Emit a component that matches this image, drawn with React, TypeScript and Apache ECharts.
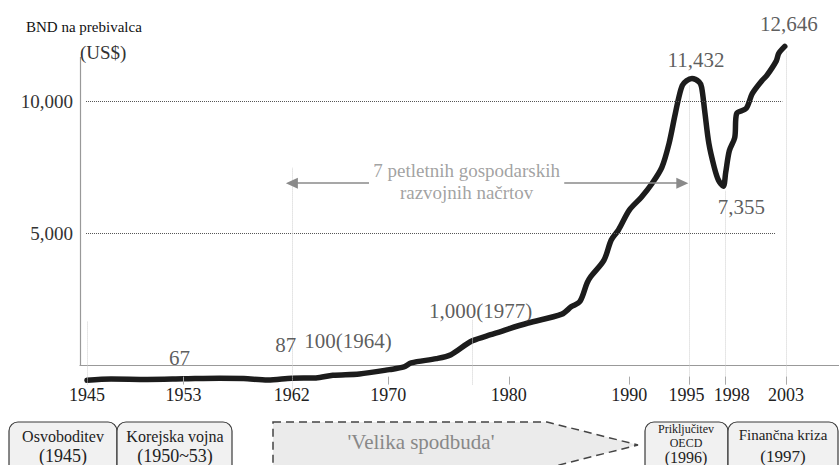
import React, { useEffect, useRef } from 'react';
import * as echarts from 'echarts';

const FONT = "'Liberation Serif', 'Times New Roman', serif";

// GNI per capita curve (US$)
const gniYears = [
  1945, 1947, 1950, 1953, 1956, 1958, 1960, 1962, 1964, 1965.4, 1967.6, 1970.1, 1971.3, 1971.9,
  1974, 1975.2, 1976.5, 1977, 1978.5, 1979.4, 1980, 1981.6, 1984.4, 1985.2, 1985.9, 1986.5,
  1986.8, 1987.9, 1988.5, 1989.1, 1990, 1991, 1991.9, 1992.7, 1993.3, 1993.75, 1994.1, 1994.4,
  1994.75, 1995.2, 1995.8, 1996, 1996.25, 1996.6, 1997.05, 1997.4, 1997.8, 1998, 1998.3,
  1998.75, 1998.9, 1999.7, 2000.2, 2001, 2001.4, 2002.2, 2002.4, 2002.9,
];
const gniValues = [
  15, 60, 45, 67, 90, 75, 20, 87, 100, 200, 250, 415, 515, 670,
  830, 980, 1380, 1510, 1735, 1860, 1960, 2180, 2515, 2800, 2990, 3700,
  3935, 4560, 5320, 5700, 6450, 6940, 7470, 8070, 8980, 9960, 10700, 11170,
  11350, 11432, 11300, 11100, 10230, 8980, 8070, 7580, 7355, 7880, 8700,
  9200, 10100, 10300, 10860, 11350, 11540, 12100, 12380, 12646,
];

const xTickYears = [1945, 1953, 1962, 1970, 1980, 1990, 1995, 1998, 2003];
const shortTickYears = [1953, 1970, 1980, 1990, 1995, 1998, 2003];
const guideYears = [1945, 1962, 1977, 1995, 1998, 2003];
const guideTops = [2230, 8070, 2300, 11170, 7200, 12490];
const yTickValues = [5000, 10000];
const gridEnds = [2002.1, 2002.7];

const noteTexts = ['67', '87', '100(1964)', '1,000(1977)', '11,432', '7,355', '12,646'];
const noteYears = [1953, 1962, 1964, 1977, 1995.2, 1997.8, 2002.9];
const noteValues = [67, 87, 100, 1000, 11432, 7355, 12646];
const noteOffsets = [[-4, -21], [-6, -33], [32, -37], [8, -43], [4, -19], [18, 21], [4, -22]];

const planText = '7 petletnih gospodarskih\nrazvojnih načrtov';
const planStart = 1962;
const planEnd = 1994.4;
const planLevel = 7470;
const planTextYear = 1976.5;
const planGap = [1968.4, 1984.6];

const eventTitles = ['Osvoboditev', 'Korejska vojna', 'Priključitev', 'Finančna kriza'];
const eventYearsText = ['(1945)', '(1950~53)', '(1996)', '(1997)'];
const campaignLabel = "'Velika spodbuda'";

// axis layout
const X_MIN = 1944.42;
const X_MAX = 2007.4;
const VIS_MIN = -1000;
const VIS_MAX = 12700;
const CURVE_SHIFT = 568;
const Y_LINE_TOP = 11680;

function txt(text: string, x: number, y: number, size: number, fill: string, align = 'center') {
  return {
    type: 'text',
    x,
    y,
    silent: true,
    z: 10,
    style: {
      text,
      font: `${size}px ${FONT}`,
      fill,
      align,
      verticalAlign: 'middle',
      textAlign: align,
      textVerticalAlign: 'middle',
    },
  };
}

export default function App() {
  const ref = useRef<HTMLDivElement>(null);

  useEffect(() => {
    if (!ref.current) return;
    const chart = echarts.init(ref.current, undefined, { renderer: 'svg' });

    const curveData = gniYears.map((y, i) => [y, gniValues[i]]);

    const gridLineItems = yTickValues.map((v, i) => [
      { coord: [1944.92, v], lineStyle: { type: 'dotted', color: '#555', width: 1 } },
      { coord: [gridEnds[i], v] },
    ]);
    const yAxisLine = [
      { coord: [X_MIN, 0], lineStyle: { type: 'solid', color: '#999', width: 1.2 } },
      { coord: [X_MIN, Y_LINE_TOP] },
    ];

    const guideItems = guideYears.map((y, i) => [
      { coord: [y, y === 1962 ? -340 : -150], lineStyle: { type: 'dotted', color: '#cfcfcf', width: 1 } },
      { coord: [y, guideTops[i]] },
    ]);
    const tickItems = shortTickYears.map((y) => [
      { coord: [y, -150], lineStyle: { type: 'solid', color: '#aaa', width: 1 } },
      { coord: [y, 150] },
    ]);
    const arrowStyle = { type: 'solid', color: '#8a8a8a', width: 1.5 };
    const arrowItems = [
      [
        { coord: [planStart, planLevel], symbol: 'triangle', symbolSize: [11, 12], lineStyle: arrowStyle, itemStyle: { color: '#8a8a8a' } },
        { coord: [planGap[0], planLevel], symbol: 'none' },
      ],
      [
        { coord: [planGap[1], planLevel], symbol: 'none', lineStyle: arrowStyle, itemStyle: { color: '#8a8a8a' } },
        { coord: [planEnd, planLevel], symbol: 'triangle', symbolSize: [11, 12] },
      ],
    ];

    const noteData: any[] = noteTexts.map((t, i) => ({
      name: t,
      value: [noteYears[i], noteValues[i]],
      label: { offset: noteOffsets[i] },
    }));
    noteData.push({
      name: planText,
      value: [planTextYear, planLevel],
      label: { offset: [0, -2], fontSize: 19, color: '#8a8a8a', lineHeight: 22 },
    });

    const boxStyle = { fill: '#f1f1f1', stroke: '#3a3a3a', lineWidth: 1.2 };
    const xLabelRich = {
      l: { fontFamily: FONT, fontSize: 18, color: '#222', padding: [0, 6, 0, 0] },
      r: { fontFamily: FONT, fontSize: 18, color: '#222', padding: [0, 0, 0, 12] },
    };

    const option: any = {
      animation: false,
      grid: { left: 80, right: 0, top: 30, bottom: 73, outerBoundsMode: 'none' },
      xAxis: {
        type: 'value',
        min: X_MIN,
        max: X_MAX,
        position: 'bottom',
        axisLine: { show: true, onZero: true, onZeroAxisIndex: 0, lineStyle: { color: '#999', width: 1.2 } },
        axisTick: { show: false },
        splitLine: { show: false },
        axisLabel: {
          customValues: xTickYears,
          margin: -6,
          fontFamily: FONT,
          fontSize: 18,
          color: '#222',
          rich: xLabelRich,
          formatter: (v: number) => {
            const y = Math.round(v);
            if (y === 1995) return `{l|${y}}`;
            if (y === 1998) return `{r|${y}}`;
            return String(y);
          },
        },
      },
      yAxis: [
        {
          type: 'value',
          min: VIS_MIN,
          max: VIS_MAX,
          axisLine: { show: false },
          axisTick: { show: false },
          splitLine: { show: false },
          axisLabel: {
            customValues: yTickValues,
            margin: 7,
            fontFamily: FONT,
            fontSize: 19,
            color: '#333',
            formatter: (v: number) => v.toLocaleString('en-US'),
          },
        },
        { type: 'value', min: VIS_MIN + CURVE_SHIFT, max: VIS_MAX + CURVE_SHIFT, show: false },
      ],
      series: [
        {
          name: 'grid-guides',
          type: 'scatter',
          yAxisIndex: 0,
          data: [[X_MIN, 0]],
          symbolSize: 0,
          silent: true,
          z: 1,
          markLine: {
            silent: true,
            symbol: 'none',
            label: { show: false },
            data: [...gridLineItems, yAxisLine],
          },
        },
        {
          name: 'year-guides',
          type: 'scatter',
          yAxisIndex: 1,
          data: [[X_MIN, 0]],
          symbolSize: 0,
          silent: true,
          z: 1,
          markLine: {
            silent: true,
            symbol: 'none',
            label: { show: false },
            data: [...guideItems, ...tickItems, ...arrowItems],
          },
        },
        {
          name: 'BND na prebivalca',
          type: 'line',
          yAxisIndex: 1,
          data: curveData,
          showSymbol: false,
          symbol: 'none',
          smooth: 0.3,
          clip: false,
          silent: true,
          z: 3,
          lineStyle: { color: '#1c1c1c', width: 5.5, cap: 'round', join: 'round' },
        },
        {
          name: 'notes',
          type: 'scatter',
          yAxisIndex: 1,
          data: noteData,
          symbolSize: 1,
          itemStyle: { color: 'rgba(0,0,0,0)' },
          silent: true,
          z: 5,
          label: {
            show: true,
            position: 'inside',
            formatter: '{b}',
            fontFamily: FONT,
            fontSize: 21,
            color: '#333',
          },
        },
      ],
      graphic: [
        txt('BND na prebivalca', 26, 27, 15, '#111', 'left'),
        txt('(US$)', 80, 52, 19, '#333', 'left'),
        { type: 'rect', silent: true, z: 5, shape: { x: 9, y: 422, width: 108, height: 60, r: 9 }, style: boxStyle },
        { type: 'rect', silent: true, z: 5, shape: { x: 117, y: 422, width: 115, height: 60, r: 9 }, style: boxStyle },
        {
          type: 'polygon',
          silent: true,
          z: 5,
          shape: { points: [[273, 422], [547, 422], [638, 445], [547, 468], [273, 468]] },
          style: { fill: '#ebebeb', stroke: '#444', lineWidth: 1.5, lineDash: [8, 5] },
        },
        { type: 'rect', silent: true, z: 5, shape: { x: 645, y: 422, width: 83, height: 60, r: 9 }, style: boxStyle },
        { type: 'rect', silent: true, z: 5, shape: { x: 728, y: 422, width: 110, height: 60, r: 9 }, style: boxStyle },
        txt(eventTitles[0], 63, 436, 16, '#222'),
        txt(eventYearsText[0], 63, 456, 18, '#222'),
        txt(eventTitles[1], 175, 436, 16, '#222'),
        txt(eventYearsText[1], 175, 456, 18, '#222'),
        txt(campaignLabel, 421, 442, 21, '#888'),
        txt(eventTitles[2], 686, 429, 12, '#222'),
        txt('OECD', 686, 442.5, 12, '#222'),
        txt(eventYearsText[2], 686, 457, 16, '#222'),
        txt(eventTitles[3], 783, 435, 15, '#222'),
        txt(eventYearsText[3], 783, 456, 17, '#222'),
      ],
    };

    chart.setOption(option);
    return () => chart.dispose();
  }, []);

  return (
    <div
      ref={ref}
      style={{ position: 'fixed', left: 0, top: 0, width: 839, height: 465, background: '#fff' }}
    />
  );
}
